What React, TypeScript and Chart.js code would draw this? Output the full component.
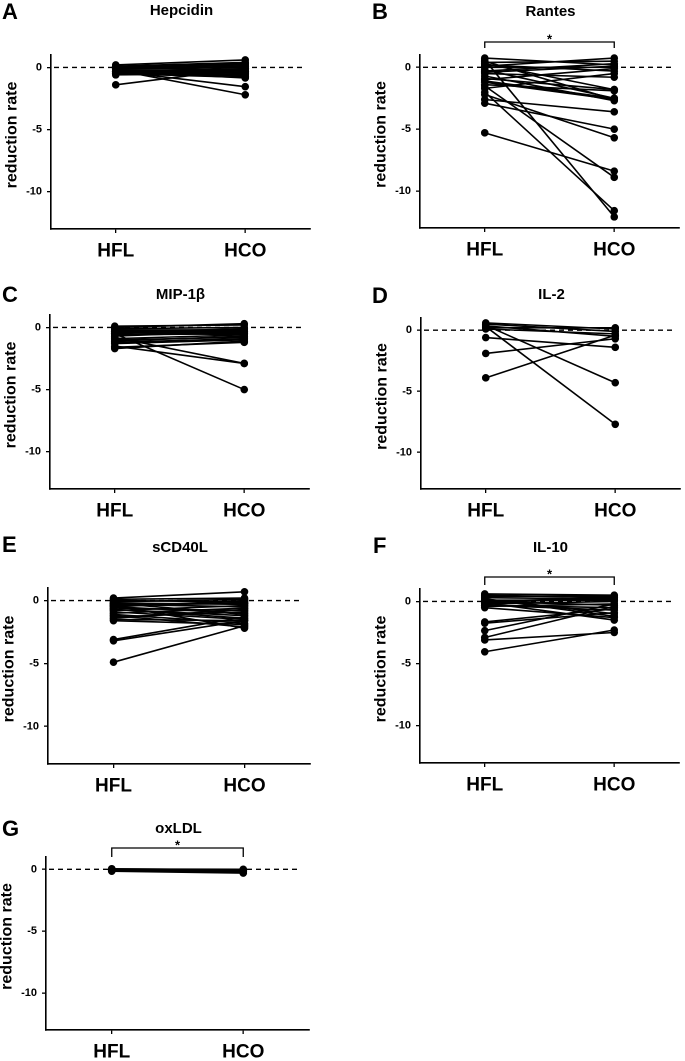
import React, { useEffect, useRef } from "react";
import { Chart, registerables } from "chart.js";

Chart.register(...registerables);

const FONT = "'Liberation Sans', Arial, Helvetica, sans-serif";

// ---- data ----
const categories = ["HFL", "HCO"];
const yTickValues = [0, -5, -10];
const yAxisMin = -13;
const yAxisMax = 1;
const yAxisLabel = "reduction rate";

const hepcidinHFL = [0.2, 0.1, 0.0, -0.1, -0.2, -0.3, -0.4, -0.5, -0.6, -0.2, -0.3, -0.1, 0.0, -0.4, -0.2, -0.3, -0.5, -1.4, -0.3, -0.2, 0.1, -0.4];
const hepcidinHCO = [0.6, 0.4, 0.2, 0.0, -0.2, -0.4, -0.6, -0.8, -0.5, -0.3, -0.1, 0.1, 0.3, -0.7, -2.2, -1.55, -0.4, -0.1, -0.85, -0.6, -0.3, -0.2];

const rantesHFL = [0.75, 0.6, 0.5, 0.4, 0.3, 0.2, 0.1, 0.0, -0.2, -0.3, -0.5, -0.7, -0.9, -1.0, -1.2, -1.4, -1.5, -1.7, -2.0, -2.2, -2.6, -2.9, -5.3, -1.1, -0.4];
const rantesHCO = [0.2, -12.1, -2.6, 0.5, -1.8, -0.3, 0.75, 0.0, -2.5, 0.3, -0.8, -2.7, -1.8, -0.1, -2.6, -1.9, -8.9, -0.5, -11.6, -5.7, -3.6, -5.0, -8.4, -2.5, 0.1];

const mip1bHFL = [0.1, 0.0, -0.1, -0.2, -0.3, -0.4, -0.5, -0.6, -0.7, -0.8, -0.9, -1.0, -1.1, -1.2, -1.3, -1.5, -1.6, -1.7, -0.2, -0.3, -0.5, -0.4, -0.6];
const mip1bHCO = [0.2, 0.3, 0.0, -0.2, -0.4, -0.1, -5.0, -0.5, -0.3, -2.9, -0.6, -0.8, -0.7, -0.9, -1.0, -2.9, -1.2, -1.1, -0.3, -0.5, -0.2, -0.6, -0.4];

const il2HFL = [0.6, 0.5, 0.4, 0.3, 0.2, 0.1, 0.35, -0.6, -1.9, -3.9];
const il2HCO = [0.1, -0.1, -4.3, -7.7, 0.2, -0.3, -0.5, -1.4, -0.7, -0.4];

const scd40lHFL = [0.2, 0.1, 0.0, -0.1, -0.2, -0.3, -0.4, -0.5, -0.6, -0.7, -0.8, -0.9, -1.0, -1.1, -1.2, -1.3, -1.4, -1.5, -1.6, -3.1, -3.2, -4.9, -0.3, -0.5, -0.2, -0.7, -0.4];
const scd40lHCO = [0.7, 0.2, -0.1, 0.1, -0.3, -0.5, -0.2, -1.0, -0.8, -1.2, -0.4, -1.5, -0.6, -1.8, -2.1, -0.9, -0.7, -1.6, -1.9, -1.3, -1.6, -2.0, -0.2, 0.0, -1.1, -1.4, -2.2];

const il10HFL = [0.6, 0.5, 0.4, 0.3, 0.2, 0.1, 0.0, -0.1, -0.2, -0.3, -0.4, -0.5, -0.15, -0.05, -1.65, -1.75, -2.35, -2.9, -3.1, -4.05, 0.2, -0.3, 0.0];
const il10HCO = [0.5, 0.3, 0.45, 0.2, -1.2, 0.1, -0.3, -1.5, 0.0, -0.7, -0.2, -1.3, 0.4, 0.2, -0.6, -0.9, -0.2, -0.4, -2.5, -2.3, -1.0, -0.5, 0.3];

const oxldlHFL = [0.05, 0.0, -0.05, -0.1, -0.15, -0.05, 0.0, -0.1, 0.02, -0.08];
const oxldlHCO = [-0.05, -0.1, -0.15, -0.2, -0.3, -0.25, -0.1, -0.2, 0.0, -0.15];

const panelLetters = ["A", "B", "C", "D", "E", "F", "G"];
const panelTitles = ["Hepcidin", "Rantes", "MIP-1β", "IL-2", "sCD40L", "IL-10", "oxLDL"];
const panelHFL = [hepcidinHFL, rantesHFL, mip1bHFL, il2HFL, scd40lHFL, il10HFL, oxldlHFL];
const panelHCO = [hepcidinHCO, rantesHCO, mip1bHCO, il2HCO, scd40lHCO, il10HCO, oxldlHCO];
const panelSignificance = ["", "*", "", "", "", "*", "*"];

// ---- layout (page pixel coordinates) ----
type Layout = {
  canvas: [number, number, number, number]; // x, y, w, h
  area: [number, number, number, number]; // left, top, right, bottom
  letter: [number, number];
  titleY: number;
  bracket?: [number, number, number]; // bar y, leg bottom y, star y
};

const layouts: Layout[] = [
  { canvas: [0, 0, 340, 265], area: [51, 55, 310, 229], letter: [2, 13], titleY: 11 },
  { canvas: [340, 0, 345, 265], area: [420, 55, 679, 228], letter: [372, 13], titleY: 12, bracket: [42, 48, 37] },
  { canvas: [0, 265, 340, 260], area: [50, 315, 309, 489], letter: [2, 296], titleY: 295 },
  { canvas: [340, 265, 345, 260], area: [421, 318, 680, 489], letter: [372, 297], titleY: 295 },
  { canvas: [0, 525, 340, 280], area: [48, 588, 310, 764], letter: [2, 546], titleY: 548 },
  { canvas: [340, 525, 345, 280], area: [420, 589, 679, 763], letter: [373, 547], titleY: 548, bracket: [577, 585, 572] },
  { canvas: [0, 805, 340, 256], area: [46, 857, 309, 1030], letter: [2, 830], titleY: 829, bracket: [848, 857, 843] },
];

const Y_AXIS_W = 34;
const X_AXIS_H = 38;

function makeDecor(idx: number) {
  const L = layouts[idx];
  const ox = L.canvas[0];
  const oy = L.canvas[1];
  return {
    id: "decor" + idx,
    beforeDatasetsDraw(chart: any) {
      const { ctx, chartArea, scales } = chart;
      const y0 = scales.y.getPixelForValue(0);
      ctx.save();
      ctx.strokeStyle = "#000";
      ctx.lineWidth = 1.4;
      ctx.setLineDash([5, 4]);
      ctx.beginPath();
      ctx.moveTo(chartArea.left + 3, y0);
      ctx.lineTo(chartArea.right - 8, y0);
      ctx.stroke();
      ctx.restore();
    },
    afterDraw(chart: any) {
      const { ctx, chartArea, scales } = chart;
      ctx.save();
      ctx.fillStyle = "#000";
      ctx.strokeStyle = "#000";
      ctx.textBaseline = "middle";
      // panel letter
      ctx.font = `bold 22px ${FONT}`;
      ctx.textAlign = "left";
      ctx.fillText(panelLetters[idx], L.letter[0] - ox, L.letter[1] - oy);
      // title
      ctx.font = `bold 15px ${FONT}`;
      ctx.textAlign = "center";
      ctx.fillText(panelTitles[idx], (chartArea.left + chartArea.right) / 2 + 1, L.titleY - oy);
      // y axis label
      ctx.save();
      ctx.translate(chartArea.left - 39, (chartArea.top + chartArea.bottom) / 2 - 7);
      ctx.rotate(-Math.PI / 2);
      ctx.font = `bold 16px ${FONT}`;
      ctx.textAlign = "center";
      ctx.fillText(yAxisLabel, 0, 0);
      ctx.restore();
      // significance bracket
      if (panelSignificance[idx] && L.bracket) {
        const x0 = scales.x.getPixelForValue(0);
        const x1 = scales.x.getPixelForValue(1);
        const by = L.bracket[0] - oy;
        const bl = L.bracket[1] - oy;
        ctx.lineWidth = 1.3;
        ctx.beginPath();
        ctx.moveTo(x0, bl);
        ctx.lineTo(x0, by);
        ctx.lineTo(x1, by);
        ctx.lineTo(x1, bl);
        ctx.stroke();
        ctx.font = `bold 13px ${FONT}`;
        ctx.textAlign = "center";
        ctx.fillText(panelSignificance[idx], (x0 + x1) / 2, L.bracket[2] - oy + 3);
      }
      ctx.restore();
    },
  };
}

function Panel({ idx }: { idx: number }) {
  const ref = useRef<HTMLCanvasElement | null>(null);
  const L = layouts[idx];
  useEffect(() => {
    if (!ref.current) return;
    const [cx, cy, cw, ch] = L.canvas;
    const [al, at, ar, ab] = L.area;
    const hfl = panelHFL[idx];
    const hco = panelHCO[idx];
    const datasets = hfl.map((v, i) => ({
      data: [v, hco[i]],
      borderColor: "#000",
      backgroundColor: "#000",
      borderWidth: 1.6,
      pointRadius: 3.8,
      pointBackgroundColor: "#000",
      pointBorderColor: "#000",
      pointBorderWidth: 0,
      clip: false as any,
      tension: 0,
    }));
    const gridCfg = {
      display: true,
      drawOnChartArea: false,
      drawTicks: true,
      tickLength: 4,
      color: "#000",
      lineWidth: 1.3,
      offset: false,
    };
    const borderCfg = { display: true, color: "#000", width: 1.6 };
    const chart = new Chart(ref.current, {
      type: "line",
      data: { labels: categories, datasets },
      options: {
        responsive: false,
        animation: false,
        devicePixelRatio: 2,
        layout: {
          padding: {
            left: al - cx - Y_AXIS_W,
            top: at - cy,
            right: cx + cw - ar,
            bottom: cy + ch - ab - X_AXIS_H,
          },
        },
        plugins: {
          legend: { display: false },
          title: { display: false },
          tooltip: { enabled: false },
        },
        scales: {
          x: {
            type: "category",
            offset: true,
            grid: gridCfg,
            border: borderCfg,
            ticks: {
              color: "#000",
              font: { family: FONT, size: 19, weight: "bold" },
              padding: 7,
              maxRotation: 0,
              autoSkip: false,
            },
            afterFit: (s: any) => {
              s.height = X_AXIS_H;
            },
          },
          y: {
            type: "linear",
            min: yAxisMin,
            max: yAxisMax,
            grid: gridCfg,
            border: borderCfg,
            afterBuildTicks: (s: any) => {
              s.ticks = yTickValues.map((v) => ({ value: v }));
            },
            ticks: {
              color: "#000",
              font: { family: FONT, size: 11, weight: "bold" },
              padding: 5,
            },
            afterFit: (s: any) => {
              s.width = Y_AXIS_W;
            },
          },
        },
      } as any,
      plugins: [makeDecor(idx)],
    });
    return () => chart.destroy();
  }, [idx]);
  const [cx, cy, cw, ch] = L.canvas;
  return (
    <canvas
      ref={ref}
      width={cw}
      height={ch}
      style={{ position: "absolute", left: cx, top: cy, width: cw, height: ch }}
    />
  );
}

export default function App() {
  return (
    <div
      style={{
        position: "absolute",
        left: 0,
        top: 0,
        width: 685,
        height: 1061,
        background: "#fff",
        overflow: "hidden",
      }}
    >
      {layouts.map((_, i) => (
        <Panel key={i} idx={i} />
      ))}
    </div>
  );
}
